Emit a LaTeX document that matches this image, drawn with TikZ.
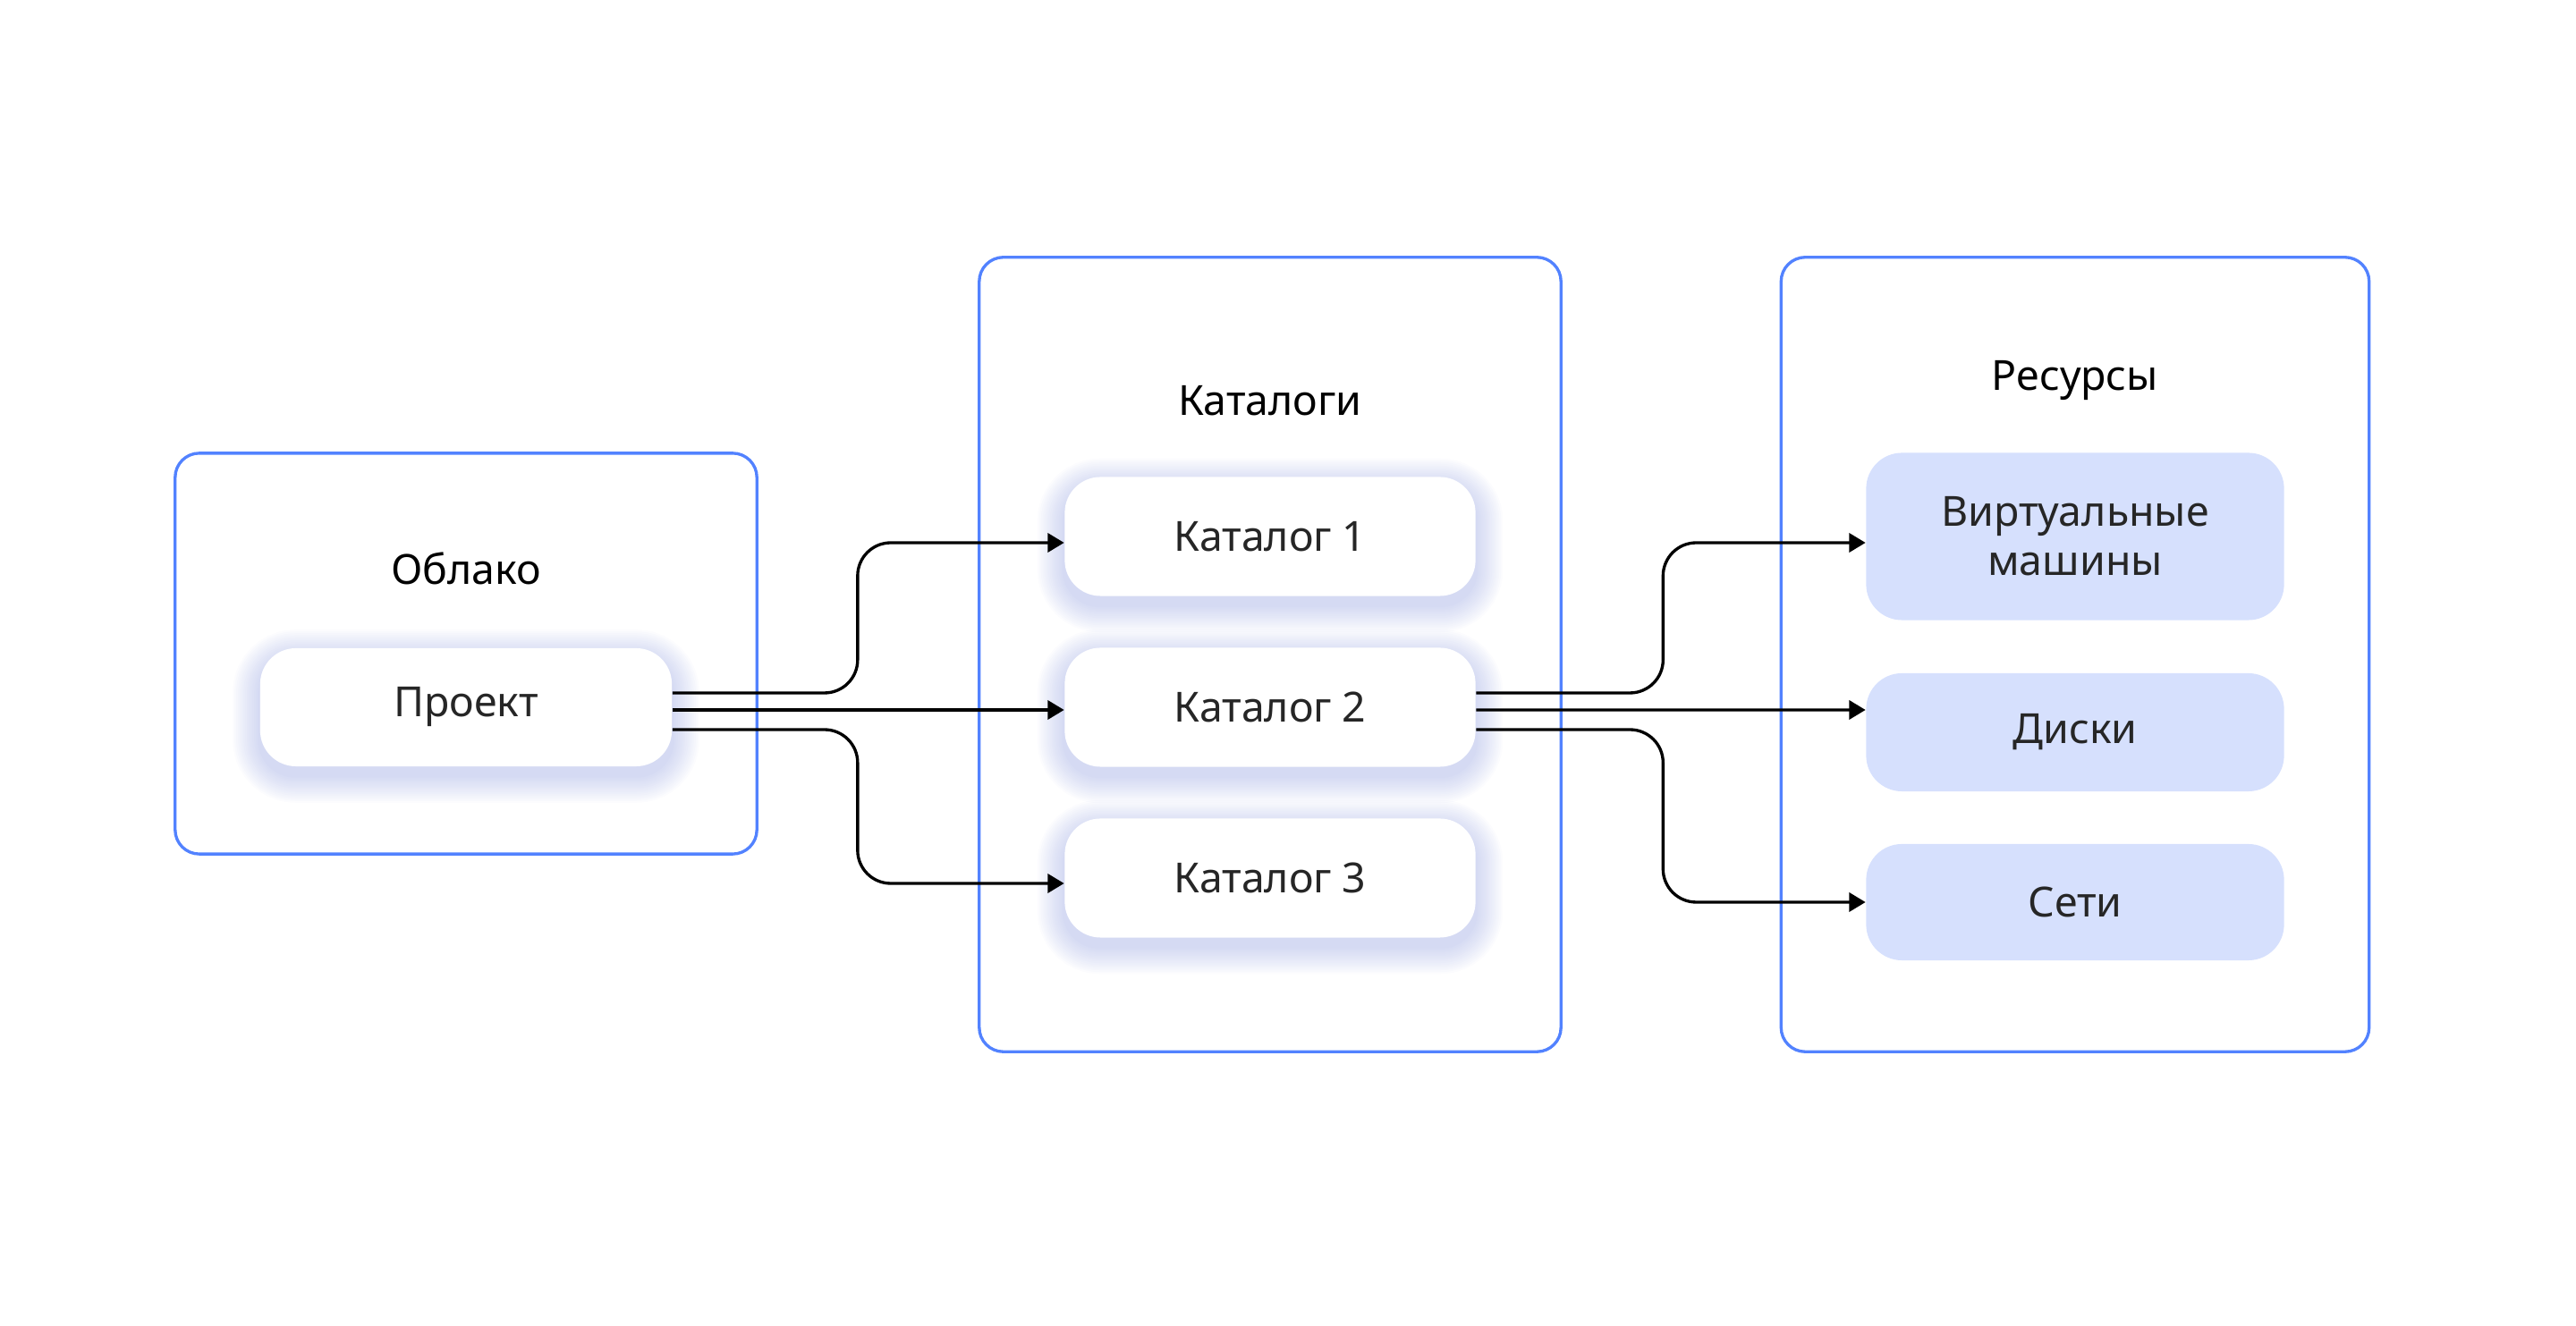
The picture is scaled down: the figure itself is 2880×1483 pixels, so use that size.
\documentclass[tikz,border=0pt]{standalone}
\usepackage{fontspec}
\setmainfont{Noto Sans}
\usetikzlibrary{arrows.meta}
\definecolor{frameblue}{HTML}{5282FF}
\definecolor{resfill}{HTML}{D6E0FD}
\definecolor{shadeblue}{HTML}{8594DC}
\definecolor{textgray}{HTML}{262626}
\pgfdeclarelayer{bg}
\pgfsetlayers{bg,main}

\begin{document}
\begin{tikzpicture}[x=0.01cm,y=-0.01cm]
            \tikzstyle{every node} = [font=\fontsize{13.2}{15.6}\selectfont]
            \tikzstyle{frame} = [draw=frameblue, line width=0.95pt, rounded corners=0.27cm, inner sep=0pt]
            \tikzstyle{card} = [fill=white, text=textgray, rounded corners=0.4cm, minimum width=4.6cm, minimum height=1.32cm, inner sep=0pt, align=center]
            \tikzstyle{res} = [card, fill=resfill, minimum width=4.67cm]
            \tikzstyle{title} = [text=black, anchor=base]
            \tikzstyle{link} = [line width=0.95pt, rounded corners=0.37cm, -{Triangle[length=5.2pt,width=6pt]}]
            \useasboundingbox (0,0) rectangle (2880,1483);
            % frames
            \node[frame, minimum width=6.5cm, minimum height=4.48cm] (cloudbox) at (521,731) {};
            \node[frame, minimum width=6.5cm, minimum height=8.88cm] (catbox) at (1420,732) {};
            \node[frame, minimum width=6.57cm, minimum height=8.88cm] (resbox) at (2320,732) {};
            \node[title] (cloud) at (521,654) {Облако};
            \node[title] (cats) at (1420,465) {Каталоги};
            \node[title] (ress) at (2320,437) {Ресурсы};
            % cards
            \node[card] (proj) at (521,791) {Проект};
            \node[card, minimum width=4.59cm, minimum height=1.33cm] (cat1) at (1420,600) {Каталог 1};
            \node[card, minimum width=4.59cm, minimum height=1.33cm] (cat2) at (1420,791) {Каталог 2};
            \node[card, minimum width=4.59cm, minimum height=1.33cm] (cat3) at (1420,982) {Каталог 3};
            \node[res, minimum height=1.87cm] (vm) at (2320,600) {Виртуальные\\машины};
            \node[res] (disks) at (2320,819) {Диски};
            \node[res, minimum height=1.3cm] (nets) at (2320,1009) {Сети};
            % soft shadows
            \begin{pgfonlayer}{bg}
            \foreach \n in {proj,cat1,cat2,cat3}
                \foreach \i in {1,...,15}
                    \fill[shadeblue, opacity=0.028, rounded corners=0.4cm+\i*0.02cm]
                        ([xshift=-\i*0.02cm, yshift=-0.1cm-\i*0.02cm]\n.south west) rectangle
                        ([xshift=\i*0.02cm, yshift=-0.1cm+\i*0.02cm]\n.north east);
            \end{pgfonlayer}
            % links
            \draw[link] ([yshift=0.16cm]proj.east) -- ++(207,0) |- ([yshift=-0.07cm]cat1.west);
            \draw[link] ([yshift=-0.03cm]proj.east) -- ([yshift=-0.03cm]cat2.west);
            \draw[link] ([yshift=-0.25cm]proj.east) -- ++(207,0) |- ([yshift=-0.06cm]cat3.west);
            \draw[link] ([yshift=0.16cm]cat2.east) -- ++(209,0) |- ([yshift=-0.07cm]vm.west);
            \draw[link] ([yshift=-0.03cm]cat2.east) -- ([yshift=0.25cm]disks.west);
            \draw[link] ([yshift=-0.25cm]cat2.east) -- ++(209,0) |- (nets.west);
        \end{tikzpicture}
\end{document}
